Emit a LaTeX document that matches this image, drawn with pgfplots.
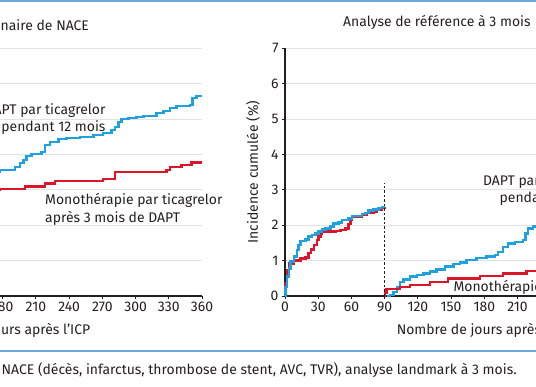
\documentclass[border=0pt]{standalone}
\usepackage{fontspec}
\setmainfont{Fira Sans}
\usepackage{pgfplots}
\pgfplotsset{compat=1.18}
\definecolor{cblue}{RGB}{30,160,225}
\definecolor{cred}{RGB}{222,20,40}
\definecolor{rulec}{RGB}{105,168,222}
\definecolor{gridc}{RGB}{226,226,226}
\definecolor{txt}{RGB}{35,31,32}
\newcommand{\fs}{\fontsize{14}{17.5}\selectfont}
\pgfplotsset{panel/.style={
  scale only axis, width=398.6bp, height=247.8bp,
  xmin=0, xmax=360, ymin=0, ymax=7,
  axis x line*=bottom, axis y line*=left,
  axis line style={-, line width=1.6bp, txt},
  xtick={0,30,...,360}, ytick={0,1,...,7},
  tick style={line width=1bp, txt}, tick align=outside, major tick length=3bp,
  ymajorgrids, grid style={gridc, line width=0.9bp},
  ticklabel style={font=\fs, text=txt},
  /pgf/number format/assume math mode=true,
  clip=false,
  every axis plot/.append style={line width=2.5bp, const plot mark left, mark=none},
}}
\begin{document}
\begin{tikzpicture}[x=1bp,y=1bp]
\begin{scope}
\clip (0,0) rectangle (536,386);
% left panel
\begin{axis}[panel, at={(-196.6bp,90bp)}, anchor=origin]
\addplot[cblue] coordinates {(170,3.50) (177,3.56) (191,3.64) (195.6,3.76) (198.6,3.84) (201.6,3.95) (206.2,4.01) (215.2,4.07) (218.2,4.27) (222.7,4.35) (230.2,4.44) (237.8,4.46) (249.8,4.49) (261.8,4.55) (270.8,4.60) (278.4,4.69) (281.4,4.77) (284.4,4.92) (287.5,5.00) (293.4,5.03) (301,5.06) (307,5.08) (319.1,5.17) (325.1,5.23) (331.1,5.31) (337.1,5.37) (349.2,5.40) (351.6,5.59) (355.2,5.65) (360,5.65)};
\addplot[cred] coordinates {(170,3.00) (177,3.02) (200,3.09) (218.2,3.18) (227.2,3.25) (270.8,3.31) (281.4,3.51) (328.1,3.56) (331.1,3.65) (341.7,3.70) (350.7,3.77) (360,3.77)};
\node[anchor=east, align=right, font=\fs, text=txt, inner sep=0pt] at (axis cs:273,5.0) {DAPT par ticagrelor\\pendant 12 mois};
\node[anchor=west, align=left, font=\fs, text=txt, inner sep=0pt] at (axis cs:218.2,2.45) {Monothérapie par ticagrelor\\après 3 mois de DAPT};
\end{axis}
% right panel
\begin{axis}[panel, at={(285bp,90bp)}, anchor=origin]
\addplot[cred] coordinates {(0,0) (0.45,0.36) (2,0.73) (3.4,0.92) (8,1.00) (14,1.06) (18.5,1.09) (21.4,1.21) (23.6,1.32) (26,1.44) (29,1.58) (30.4,1.68) (32,1.75) (33.5,1.82) (45.5,1.84) (50,1.86) (54.5,1.91) (57.4,2.03) (59,2.15) (60.5,2.24) (69.5,2.29) (74,2.34) (80,2.38) (83,2.43) (87.5,2.49) (90,2.52)};
\addplot[cblue] coordinates {(0,0) (0.45,0.26) (2,0.55) (3.4,0.78) (5,0.97) (8,1.11) (11,1.30) (12.4,1.44) (14,1.56) (18.5,1.60) (21.4,1.68) (24.5,1.72) (27.5,1.77) (30.4,1.82) (33.5,1.88) (36.5,1.91) (41,1.96) (44,2.05) (48.4,2.07) (51.5,2.15) (57.4,2.19) (60.5,2.26) (69.5,2.32) (72.5,2.35) (75.4,2.41) (80,2.45) (84.4,2.49) (87.5,2.52) (90,2.52)};
\addplot[cblue] coordinates {(92,0) (95,0.03) (98,0.12) (101,0.26) (104,0.40) (107,0.47) (113,0.55) (119,0.59) (125,0.64) (131,0.69) (137,0.75) (144.5,0.83) (152,0.90) (158,0.94) (164,1.02) (173,1.08) (182,1.11) (189.5,1.16) (192.5,1.25) (197,1.39) (201.5,1.49) (207.5,1.53) (215,1.58) (217.4,1.77) (219.4,1.91) (224,1.96) (232,1.96)};
\addplot[cred] coordinates {(90,0) (90.5,0.10) (91.5,0.20) (104,0.26) (113,0.31) (131,0.39) (147.4,0.50) (176,0.56) (197,0.64) (218,0.71) (232,0.71)};
\addplot[txt, line width=0.8bp, dashed, dash pattern=on 2.5bp off 2bp, sharp plot] coordinates {(90,0) (90,3.2)};
\node[anchor=east, align=right, font=\fs, text=txt, inner sep=0pt] at (axis cs:288,3.0) {DAPT par ticagrelor\\pendant 12 mois};
\node[anchor=west, font=\fs, text=txt, inner sep=0pt] at (axis cs:152,0.24) {Monothérapie par ticagrelor};
\end{axis}
% texts
\node[anchor=west, font=\fs, text=txt, inner sep=0pt] at (0.5,361) {naire de NACE};
\node[anchor=west, font=\fs, text=txt, inner sep=0pt] at (343,364) {Analyse de référence à 3 mois};
\node[rotate=90, font=\fs, text=txt, inner sep=0pt] at (253,214) {Incidence cumulée (\%)};
\node[font=\fs, text=txt, inner sep=0pt] at (2.7,56) {Nombre de jours après l’ICP};
\node[font=\fs, text=txt, inner sep=0pt] at (484.3,56) {Nombre de jours après l’ICP};
\node[anchor=west, font=\fs, text=txt, inner sep=0pt] at (1.5,16) {NACE (décès, infarctus, thrombose de stent, AVC, TVR), analyse landmark à 3 mois.};
\fill[rulec] (0,384) rectangle (536,386);
\fill[rulec] (0,34) rectangle (536,36);
\end{scope}
\pgfresetboundingbox
\useasboundingbox (0,0) rectangle (536,386);
\end{tikzpicture}
\end{document}
